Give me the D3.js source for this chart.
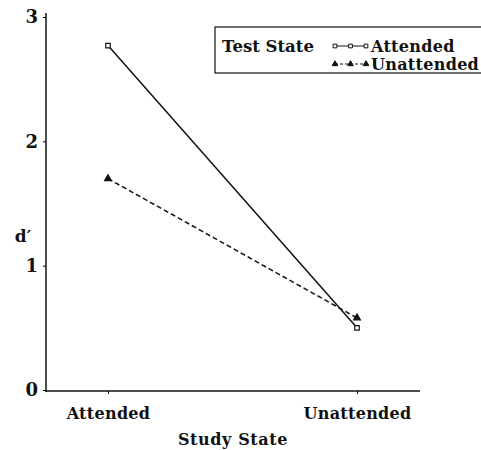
<!DOCTYPE html>
<html>
<head>
<meta charset="utf-8">
<script src="https://cdn.jsdelivr.net/npm/d3@7"></script>
<style>
body { margin: 0; background: #fff; }
svg text { font-family: "DejaVu Serif", serif; font-weight: bold; fill: #111; }
</style>
</head>
<body>
<div id="chart"></div>
<script>
var studyStates = ["Attended", "Unattended"];
var attendedValues = [2.77, 0.50];
var unattendedValues = [1.70, 0.58];
var yTicks = [0, 1, 2, 3];

var series = [
    {name: "Attended", values: attendedValues, dash: null, symbol: d3.symbolSquare},
    {name: "Unattended", values: unattendedValues, dash: "5,3", symbol: d3.symbolTriangle}
];

var svg = d3.select("#chart").append("svg")
    .attr("width", 481)
    .attr("height", 450);

var x = d3.scalePoint()
    .domain(studyStates)
    .range([108, 357]);

var y = d3.scaleLinear()
    .domain([0, 3])
    .range([390, 17]);

// axes
svg.append("line")
    .attr("x1", 46).attr("x2", 46)
    .attr("y1", 13).attr("y2", 392)
    .attr("stroke", "#111").attr("stroke-width", 1.5);
svg.append("line")
    .attr("x1", 46).attr("x2", 420)
    .attr("y1", 391).attr("y2", 391)
    .attr("stroke", "#111").attr("stroke-width", 1.5);

var yAxis = svg.append("g")
    .attr("transform", "translate(46,0)")
    .call(d3.axisLeft(y).tickValues(yTicks).tickFormat(d3.format("d")).tickSize(3).tickPadding(5));
yAxis.select(".domain").remove();
yAxis.selectAll("text").style("font-size", "18px");

var xAxis = svg.append("g")
    .attr("transform", "translate(0,391)")
    .call(d3.axisBottom(x).tickSize(3).tickPadding(14));
xAxis.select(".domain").remove();
xAxis.selectAll("text").style("font-size", "16px").style("letter-spacing", "0.3px");

svg.append("text")
    .attr("x", 233).attr("y", 445)
    .attr("text-anchor", "middle")
    .style("font-size", "16px")
    .style("letter-spacing", "0.6px")
    .text("Study State");

svg.append("text")
    .attr("x", 23).attr("y", 242)
    .attr("text-anchor", "middle")
    .style("font-size", "17px")
    .text("d\u2032");

var line = d3.line()
    .x(function(d, i) { return x(studyStates[i]); })
    .y(function(d) { return y(d); });

series.forEach(function(s) {
    svg.append("path")
        .datum(s.values)
        .attr("d", line)
        .attr("fill", "none")
        .attr("stroke", "#111")
        .attr("stroke-width", 1.5)
        .attr("stroke-dasharray", s.dash);

    svg.selectAll(null)
        .data(s.values)
        .enter().append("path")
        .attr("transform", function(d, i) { return "translate(" + x(studyStates[i]) + "," + y(d) + ")"; })
        .attr("d", d3.symbol().type(s.symbol).size(20))
        .attr("fill", s.symbol === d3.symbolSquare ? "#fff" : "#111")
        .attr("stroke", "#111")
        .attr("stroke-width", 1.2);
});

// legend
var legend = svg.append("g");
legend.append("rect")
    .attr("x", 215).attr("y", 27)
    .attr("width", 290).attr("height", 46)
    .attr("fill", "#fff")
    .attr("stroke", "#111")
    .attr("stroke-width", 1.2);
legend.append("text")
    .attr("x", 222).attr("y", 52)
    .style("font-size", "16.5px")
    .text("Test State");

series.forEach(function(s, i) {
    var ly = 46 + i * 18;
    legend.append("line")
        .attr("x1", 335).attr("x2", 366)
        .attr("y1", ly).attr("y2", ly)
        .attr("stroke", "#111")
        .attr("stroke-width", 1)
        .attr("stroke-dasharray", s.dash ? "3,2" : null);
    [335, 350.5, 366].forEach(function(lx) {
        legend.append("path")
            .attr("transform", "translate(" + lx + "," + ly + ")")
            .attr("d", d3.symbol().type(s.symbol).size(14))
            .attr("fill", s.symbol === d3.symbolSquare ? "#fff" : "#111")
            .attr("stroke", "#111")
            .attr("stroke-width", 1);
    });
    legend.append("text")
        .attr("x", 371).attr("y", ly + 6)
        .style("font-size", "16px")
        .style("letter-spacing", "0.3px")
        .text(s.name);
});
</script>
</body>
</html>
